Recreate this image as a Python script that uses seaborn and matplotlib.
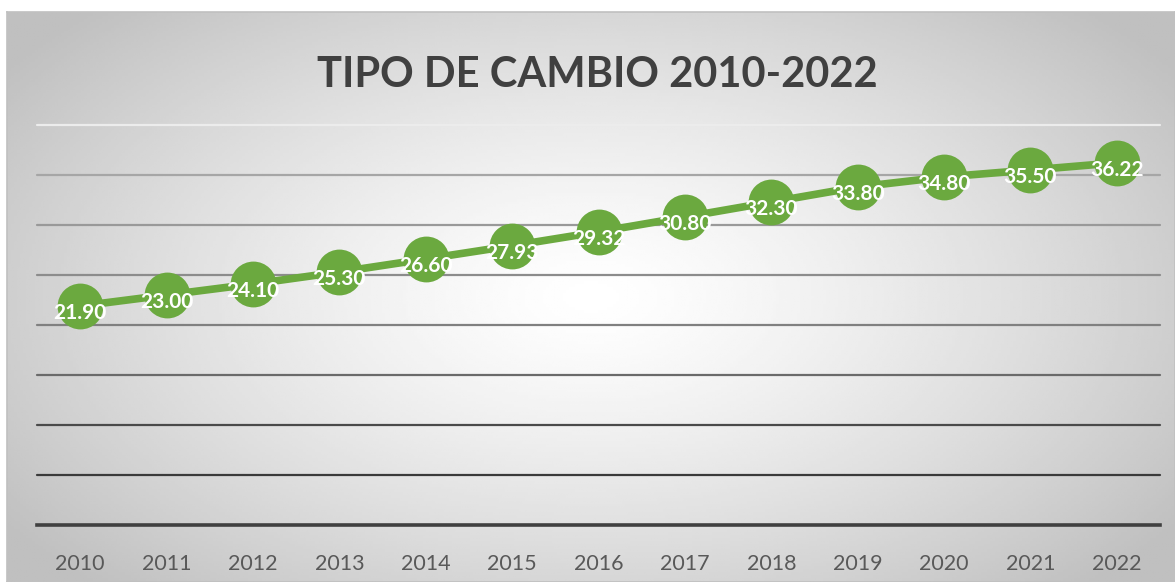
# ============================================================
# TIPO DE CAMBIO 2010-2022 — line chart
# ============================================================
import numpy as np
import pandas as pd
import matplotlib
matplotlib.use('Agg')
import matplotlib.pyplot as plt
import seaborn as sns

# ============================================================
# DATA
# ============================================================
years = ['2010', '2011', '2012', '2013', '2014', '2015', '2016',
         '2017', '2018', '2019', '2020', '2021', '2022']
rates = [21.90, 23.00, 24.10, 25.30, 26.60, 27.93, 29.32,
         30.80, 32.30, 33.80, 34.80, 35.50, 36.22]
rate_labels = ['21.90', '23.00', '24.10', '25.30', '26.60', '27.93', '29.32',
               '30.80', '32.30', '33.80', '34.80', '35.50', '36.22']
y_ticks = [0, 5, 10, 15, 20, 25, 30, 35, 40]

df = pd.DataFrame({'pos': range(len(years)), 'year': years, 'rate': rates})

# ============================================================
# STYLE
# ============================================================
sns.set_style('white')
plt.rcParams['font.family'] = ['Lato', 'DejaVu Sans']

GREEN = '#6BA93F'
W, H = 1175, 582
fig = plt.figure(figsize=(W / 100, H / 100), dpi=100)
fig.patch.set_facecolor('white')

# radial gradient background (white centre, grey edges)
bg = fig.add_axes([7 / W, 0, 1 - 7 / W, (H - 12) / H], zorder=-1)
gx = np.linspace(-1, 1, 400)
gy = np.linspace(-1, 1, 200)
XX, YY = np.meshgrid(gx, gy)
r = np.sqrt((XX / 1.0) ** 2 + (YY / 1.15) ** 2)
shade = np.clip(1 - 0.19 * r ** 1.3, 0.75, 1)
bg.imshow(shade, cmap='gray', vmin=0, vmax=1, aspect='auto', extent=[0, 1, 0, 1])
bg.set_xticks([])
bg.set_yticks([])
for s in bg.spines.values():
    s.set_color('#c0c0c0')
    s.set_linewidth(1.2)

# ============================================================
# PLOT
# ============================================================
ax = fig.add_axes([37 / W, 57 / H, 1123 / W, 400 / H])
ax.set_facecolor('none')

sns.lineplot(data=df, x='pos', y='rate', ax=ax, color=GREEN, linewidth=5.5,
             marker='o', markersize=33, markeredgewidth=0, zorder=3)

# data labels
for i, v in enumerate(rates):
    ax.annotate(rate_labels[i], (i, v), xytext=(0, -5), textcoords='offset points',
                ha='center', va='center', color='white', fontsize=15,
                fontweight='bold', zorder=4)

ax.set_xlim(-0.5, len(years) - 0.5)
ax.set_ylim(0, 40)
ax.set_xticks(range(len(years)))
ax.set_xticklabels(years, fontsize=15.5, color='#595959')
ax.tick_params(axis='x', length=0, pad=21)
ax.set_yticks(y_ticks)
ax.set_yticklabels([])
ax.tick_params(axis='y', length=0)
ax.set_xlabel('')
ax.set_ylabel('')

# gridlines get lighter towards the top
grid_colors = ['#404040', '#3a3a3a', '#4a4a4a', '#6a6a6a', '#808080',
               '#8c8c8c', '#999999', '#a6a6a6', '#ececec']
for yv, c in zip(y_ticks[1:], grid_colors[1:]):
    ax.axhline(yv, color=c, linewidth=1.6, zorder=1, clip_on=False)

for s in ['top', 'right', 'left']:
    ax.spines[s].set_visible(False)
ax.spines['bottom'].set_color('#404040')
ax.spines['bottom'].set_linewidth(2.6)

# title
fig.text(597 / W, 1 - 75 / H, 'TIPO DE CAMBIO 2010-2022', ha='center', va='center',
         fontsize=30, fontweight='bold', color='#404040')

plt.savefig('out.png', dpi=100)
plt.close()
print('Saved: out.png')
